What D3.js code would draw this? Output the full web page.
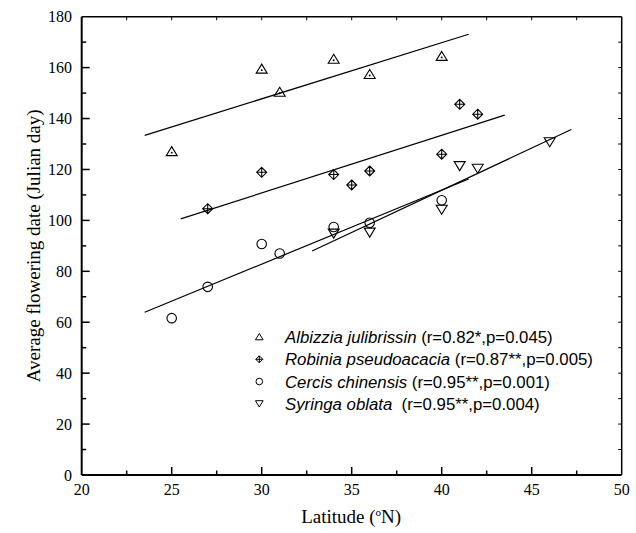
<!DOCTYPE html>
<html>
<head>
<meta charset="utf-8">
<script src="https://cdn.jsdelivr.net/npm/d3@7"></script>
<style>
	body { margin: 0; background: #fff; }
	svg { display: block; }
	.tick-label { font-family: "Liberation Serif", "Times New Roman", serif; font-size: 16px; }
	.axis-title { font-family: "Liberation Serif", "Times New Roman", serif; font-size: 19px; }
	.legend-text { font-family: "Liberation Sans", Arial, sans-serif; font-size: 16.8px; white-space: pre; }
</style>
</head>
<body>
<div id="chart"></div>
<script>
// latitude (°N) and average flowering date (Julian day) per species
var albizziaLat = [25, 30, 31, 34, 36, 40];
var albizziaDay = [127, 159.4, 150.3, 163.3, 157.3, 164.4];

var robiniaLat = [27, 30, 34, 35, 36, 40, 41, 42];
var robiniaDay = [104.6, 118.9, 118, 113.9, 119.4, 126, 145.6, 141.7];

var cercisLat = [25, 27, 30, 31, 34, 36, 40];
var cercisDay = [61.6, 73.9, 90.7, 87, 97.4, 99.1, 107.9];

var syringaLat = [34, 36, 40, 41, 42, 46];
var syringaDay = [95, 95.4, 104.4, 121.5, 120.5, 130.9];

var speciesNames = ['Albizzia julibrissin', 'Robinia pseudoacacia', 'Cercis chinensis', 'Syringa oblata'];
var speciesStats = [' (r=0.82*,p=0.045)', ' (r=0.87**,p=0.005)', ' (r=0.95**,p=0.001)', '  (r=0.95**,p=0.004)'];
var speciesSymbols = ['triangleUp', 'diamondCross', 'circle', 'triangleDown'];

var xTicks = [20, 25, 30, 35, 40, 45, 50];
var yTicks = [0, 20, 40, 60, 80, 100, 120, 140, 160, 180];

(function() {
	var width = 636, height = 533;
	var mLeft = 81.7, mRight = 621.7, mTop = 16.7, mBottom = 475;

	var svg = d3.select('#chart').append('svg')
		.attr('width', width)
		.attr('height', height);

	var x = d3.scaleLinear().domain([20, 50]).range([mLeft, mRight]);
	var y = d3.scaleLinear().domain([0, 180]).range([mBottom, mTop]);

	var series = [
		{ lat: albizziaLat, day: albizziaDay },
		{ lat: robiniaLat, day: robiniaDay },
		{ lat: cercisLat, day: cercisDay },
		{ lat: syringaLat, day: syringaDay }
	];

	// least squares fit, drawn 10% past the data range at each end (Origin style)
	function fitLine(lat, day) {
		var mx = d3.mean(lat), my = d3.mean(day);
		var sxx = 0, sxy = 0;
		for (var i = 0; i < lat.length; i++) {
			sxx += (lat[i] - mx) * (lat[i] - mx);
			sxy += (lat[i] - mx) * (day[i] - my);
		}
		var slope = sxy / sxx;
		var ext = d3.extent(lat);
		var pad = (ext[1] - ext[0]) * 0.1;
		var x0 = ext[0] - pad, x1 = ext[1] + pad;
		return [[x0, my + slope * (x0 - mx)], [x1, my + slope * (x1 - mx)]];
	}

	var line = d3.line()
		.x(function(d) { return x(d[0]); })
		.y(function(d) { return y(d[1]); });

	svg.append('g').selectAll('path')
		.data(series)
		.enter().append('path')
		.attr('d', function(d) { return line(fitLine(d.lat, d.day)); })
		.attr('fill', 'none')
		.attr('stroke', '#000')
		.attr('stroke-width', 1.2);

	// marker shapes
	function drawSymbol(g, type, cx, cy, s) {
		var h = s / 2;
		if (type === 'triangleUp') {
			g.append('path')
				.attr('d', 'M' + cx + ',' + (cy - h) + 'L' + (cx + h * 1.1) + ',' + (cy + h * 0.8) + 'L' + (cx - h * 1.1) + ',' + (cy + h * 0.8) + 'Z');
			if (s > 8) g.append('circle').attr('cx', cx).attr('cy', cy + 1).attr('r', 0.4).attr('fill', '#000');
		}
		else if (type === 'triangleDown') {
			g.append('path')
				.attr('d', 'M' + cx + ',' + (cy + h) + 'L' + (cx + h * 1.1) + ',' + (cy - h * 0.8) + 'L' + (cx - h * 1.1) + ',' + (cy - h * 0.8) + 'Z');
		}
		else if (type === 'circle') {
			g.append('circle').attr('cx', cx).attr('cy', cy).attr('r', h * 0.95);
		}
		else {
			g.append('path')
				.attr('d', 'M' + cx + ',' + (cy - h) + 'L' + (cx + h) + ',' + cy + 'L' + cx + ',' + (cy + h) + 'L' + (cx - h) + ',' + cy + 'Z' +
					'M' + cx + ',' + (cy - h) + 'V' + (cy + h) + 'M' + (cx - h) + ',' + cy + 'H' + (cx + h));
		}
	}

	var markers = svg.append('g')
		.attr('fill', 'none')
		.attr('stroke', '#000')
		.attr('stroke-width', 1.1);

	series.forEach(function(s, k) {
		for (var i = 0; i < s.lat.length; i++) {
			drawSymbol(markers, speciesSymbols[k], x(s.lat[i]), y(s.day[i]), 10);
		}
	});

	// frame with inward ticks
	var frame = svg.append('g').attr('stroke', '#000');
	frame.append('line').attr('x1', mLeft).attr('x2', mRight).attr('y1', mBottom).attr('y2', mBottom).attr('stroke-width', 2);
	frame.append('line').attr('x1', mLeft).attr('x2', mLeft).attr('y1', mTop).attr('y2', mBottom).attr('stroke-width', 2);
	frame.append('line').attr('x1', mLeft).attr('x2', mRight).attr('y1', mTop).attr('y2', mTop).attr('stroke-width', 1.5);
	frame.append('line').attr('x1', mRight).attr('x2', mRight).attr('y1', mTop).attr('y2', mBottom).attr('stroke-width', 1.5);

	var xMinor = d3.range(22.5, 50, 5);
	var yMinor = d3.range(10, 180, 20);
	var xInner = xTicks.slice(1, -1);
	var yInner = yTicks.slice(1, -1);

	function tickLines(vals, scale, isX, pos, len, w) {
		frame.append('g').selectAll('line')
			.data(vals)
			.enter().append('line')
			.attr('stroke-width', w)
			.attr('x1', function(d) { return isX ? scale(d) : pos; })
			.attr('x2', function(d) { return isX ? scale(d) : pos + len; })
			.attr('y1', function(d) { return isX ? pos : scale(d); })
			.attr('y2', function(d) { return isX ? pos + len : scale(d); });
	}

	tickLines(xInner, x, true, mBottom, -8, 1.5);
	tickLines(xMinor, x, true, mBottom, -4.5, 1.5);
	tickLines(yInner, y, false, mLeft, 8, 1.5);
	tickLines(yMinor, y, false, mLeft, 4.5, 1.5);
	tickLines(xInner.concat(xMinor), x, true, mTop, 3.5, 1);
	tickLines(yInner.concat(yMinor), y, false, mRight, -3.5, 1);

	// tick labels
	svg.append('g').selectAll('text')
		.data(xTicks)
		.enter().append('text')
		.attr('class', 'tick-label')
		.attr('x', function(d) { return x(d); })
		.attr('y', 495)
		.attr('text-anchor', 'middle')
		.text(function(d) { return d; });

	svg.append('g').selectAll('text')
		.data(yTicks)
		.enter().append('text')
		.attr('class', 'tick-label')
		.attr('x', 72)
		.attr('y', function(d) { return y(d) + 5.5; })
		.attr('text-anchor', 'end')
		.text(function(d) { return d; });

	// axis titles
	var xTitle = svg.append('text')
		.attr('class', 'axis-title')
		.attr('x', (mLeft + mRight) / 2 - 0.5)
		.attr('y', 523)
		.attr('text-anchor', 'middle');
	xTitle.append('tspan').text('Latitude (');
	xTitle.append('tspan').attr('font-size', '11px').attr('dy', -7).text('o');
	xTitle.append('tspan').attr('dy', 7).text('N)');

	svg.append('text')
		.attr('class', 'axis-title')
		.attr('transform', 'translate(40,' + ((mTop + mBottom) / 2) + ') rotate(-90)')
		.attr('text-anchor', 'middle')
		.text('Average flowering date (Julian day)');

	// legend
	var legendY = [337, 359.3, 381.5, 403.5];
	var legend = svg.append('g');
	var legendMarks = legend.append('g')
		.attr('fill', 'none')
		.attr('stroke', '#000')
		.attr('stroke-width', 1);

	speciesNames.forEach(function(name, k) {
		drawSymbol(legendMarks, speciesSymbols[k], 259.3, legendY[k], 7);
		var t = legend.append('text')
			.attr('class', 'legend-text')
			.attr('x', 285)
			.attr('y', legendY[k] + 6);
		t.append('tspan').attr('font-style', 'italic').text(name);
		t.append('tspan').text(speciesStats[k]);
	});
})();
</script>
</body>
</html>
